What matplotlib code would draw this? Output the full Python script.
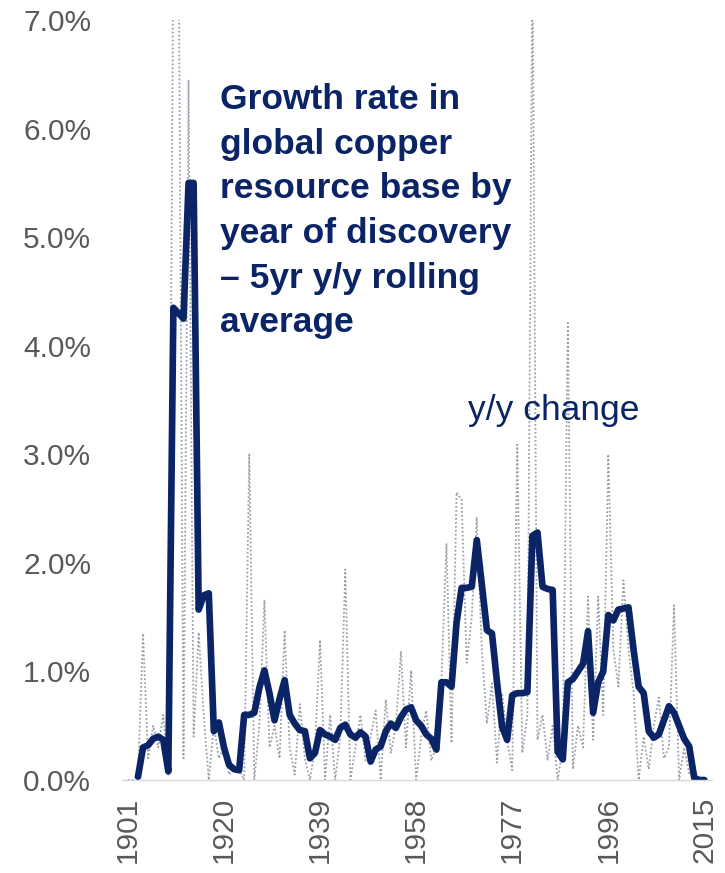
import matplotlib
matplotlib.use("Agg")
import matplotlib.pyplot as plt
import numpy as np

# years of discovery
years = list(range(1901, 2016))

# y/y change (%), dotted grey series
yoy_change = [
    0.00, 0.00, 0.05, 1.35, 0.20, 0.50, 0.30, 0.60, 0.05, 7.80,   # 1901-1910
    8.00, 0.20, 6.45, 0.40, 1.36, 0.60, 0.00, 0.50, 0.20, 0.30,   # 1911-1920
    0.05, 0.10, 0.10, 0.00, 3.00, 0.00, 0.50, 1.66, 0.30, 0.50,   # 1921-1930
    0.20, 1.38, 0.30, 0.05, 0.70, 0.20, 0.00, 0.30, 1.29, 0.00,   # 1931-1940
    0.60, 0.00, 0.40, 1.94, 0.00, 0.30, 0.60, 0.18, 0.40, 0.64,   # 1941-1950
    0.00, 0.74, 0.25, 0.50, 1.18, 0.30, 1.01, 0.00, 0.40, 0.64,   # 1951-1960
    0.18, 0.30, 0.90, 2.18, 0.34, 2.65, 2.58, 1.08, 1.50, 2.42,   # 1961-1970
    1.20, 0.52, 0.89, 0.16, 0.80, 0.37, 0.09, 3.09, 0.25, 0.60,   # 1971-1980
    7.50, 0.37, 0.60, 0.18, 0.50, 0.00, 0.30, 4.21, 0.10, 0.50,   # 1981-1990
    0.30, 1.69, 0.37, 1.69, 0.60, 3.00, 1.20, 0.86, 1.84, 1.20,   # 1991-2000
    0.80, 0.00, 0.40, 0.10, 0.50, 0.76, 0.20, 0.30, 1.61, 0.00,   # 2001-2010
    0.30, 0.06, 0.10, 0.00, 0.00,                                 # 2011-2015
]

# 5yr y/y rolling average (%), thick navy series
rolling_avg = [
    None, None, 0.03, 0.30, 0.32, 0.38, 0.40, 0.37, 0.08, 4.35,   # 1901-1910
    4.30, 4.25, 5.50, 5.50, 1.57, 1.70, 1.72, 0.45, 0.53, 0.30,   # 1911-1920
    0.14, 0.10, 0.09, 0.60, 0.60, 0.62, 0.85, 1.01, 0.80, 0.55,   # 1921-1930
    0.75, 0.92, 0.60, 0.52, 0.46, 0.45, 0.20, 0.25, 0.46, 0.42,   # 1931-1940
    0.40, 0.37, 0.48, 0.51, 0.42, 0.39, 0.44, 0.40, 0.17, 0.28,   # 1941-1950
    0.31, 0.45, 0.52, 0.48, 0.58, 0.65, 0.67, 0.55, 0.50, 0.42,   # 1951-1960
    0.38, 0.28, 0.90, 0.90, 0.86, 1.45, 1.77, 1.77, 1.78, 2.21,   # 1961-1970
    1.80, 1.38, 1.35, 0.90, 0.49, 0.37, 0.78, 0.80, 0.80, 0.81,   # 1971-1980
    2.25, 2.28, 1.78, 1.76, 1.75, 0.26, 0.19, 0.90, 0.93, 1.00,   # 1981-1990
    1.07, 1.37, 0.62, 0.90, 1.00, 1.52, 1.47, 1.57, 1.58, 1.59,   # 1991-2000
    1.20, 0.86, 0.80, 0.45, 0.39, 0.42, 0.55, 0.68, 0.62, 0.50,   # 2001-2010
    0.38, 0.31, 0.02, 0.00, 0.00,                                 # 2011-2015
]

tick_years = [1901, 1920, 1939, 1958, 1977, 1996, 2015]
y_ticks = [0, 1, 2, 3, 4, 5, 6, 7]

navy = "#0b2466"
label_grey = "#595959"

plt.rcParams["font.family"] = ["Liberation Sans", "DejaVu Sans"]

fig = plt.figure(figsize=(7.25, 8.73), dpi=100)
ax = fig.add_axes([0.168, 0.1065, 0.814, 0.8705])

yoy = np.array(yoy_change, dtype=float)
avg = np.array([np.nan if v is None else v for v in rolling_avg], dtype=float)

ax.plot(years, yoy, color="#9aa0ab", linewidth=1.3, linestyle=(0, (1, 1.2)))
ax.plot(years, avg, color=navy, linewidth=4.8,
        solid_joinstyle="round", solid_capstyle="round")

ax.set_xlim(1899.8, 2016.5)
ax.set_ylim(0, 7)
ax.set_yticks(y_ticks)
ax.set_yticklabels([f"{v:.1f}%" for v in y_ticks])
ax.set_xticks(tick_years)
ax.set_xticklabels([str(y) for y in tick_years], rotation=90)

for side in ("top", "right", "left"):
    ax.spines[side].set_visible(False)
ax.spines["bottom"].set_color("#d9d9d9")
ax.spines["bottom"].set_linewidth(1.0)
ax.tick_params(axis="both", length=0, labelsize=21.5, colors=label_grey)
ax.tick_params(axis="y", pad=22)
ax.tick_params(axis="x", pad=12)

fig.text(0.303, 0.905, "Growth rate in\nglobal copper\nresource base by\nyear of discovery\n\u2013 5yr y/y rolling\naverage",
         color=navy, fontsize=25.5, fontweight="bold", va="top", ha="left",
         linespacing=1.45)
fig.text(0.645, 0.530, "y/y change", color=navy, fontsize=25.5,
         va="center", ha="left")

fig.savefig("out.png", dpi=100)
